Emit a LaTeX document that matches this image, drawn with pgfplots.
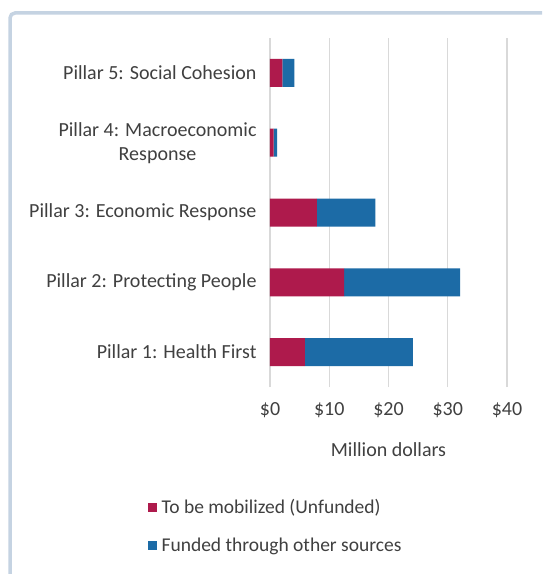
\documentclass[border=0pt]{standalone}
\usepackage{fontspec}
\setmainfont{Carlito}
\usepackage{pgfplots}
\pgfplotsset{compat=1.18}
\definecolor{unfunded}{HTML}{AE1A4C}
\definecolor{funded}{HTML}{1C6BA6}
\definecolor{txt}{HTML}{404040}
\definecolor{framecol}{HTML}{C5D3E2}
\begin{document}
\begin{tikzpicture}
\clip (0pt,0pt) rectangle (542pt,574pt);
\fill[white] (0pt,0pt) rectangle (542pt,574pt);
\draw[framecol, line width=3.5pt, rounded corners=5pt] (10pt,-20pt) rectangle (570pt,561pt);
\begin{axis}[
    at={(270pt,187pt)}, anchor=south west,
    scale only axis, width=237pt, height=349pt,
    xbar stacked, bar width=28pt,
    xmin=0, xmax=40, ymin=0.5, ymax=5.5,
    xtick={0,10,20,30,40},
    xticklabel={\$\pgfmathprintnumber{\tick}},
    ytick={1,2,3,4,5},
    yticklabels={Pillar 1: Health First, Pillar 2: Protecting People, Pillar 3: Economic Response, {Pillar 4: Macroeconomic\\Response}, Pillar 5: Social Cohesion},
    yticklabel style={align=center, xshift=-10pt},
    xticklabel style={yshift=-12pt},
    /pgf/number format/assume math mode=true,
    major tick length=0pt,
    axis line style={draw=none},
    xmajorgrids, grid style={draw=black!15, line width=1.3pt},
    font=\fontsize{20}{24}\selectfont,
    every tick label/.append style={text=txt, font=\fontsize{20}{24}\selectfont},
    xlabel={Million dollars}, xlabel style={text=txt, yshift=-18pt},
    legend style={at={(axis description cs:-0.53,-0.31)}, anchor=north west,
      draw=none, fill=none, text=txt, row sep=19pt,
      font=\fontsize{19.5}{24}\selectfont,
      nodes={inner xsep=5pt}},
    legend cell align=left,
    legend image code/.code={\fill[#1, draw=none] (0pt,-4.5pt) rectangle (9pt,4.5pt);},
    ]
\addplot[fill=unfunded, draw=none] coordinates {(5.9,1) (12.5,2) (7.9,3) (0.6,4) (2.1,5)};
\addplot[fill=funded, draw=none] coordinates {(18.2,1) (19.6,2) (9.9,3) (0.6,4) (2.0,5)};
\legend{To be mobilized (Unfunded), Funded through other sources}
\end{axis}
\end{tikzpicture}
\end{document}
